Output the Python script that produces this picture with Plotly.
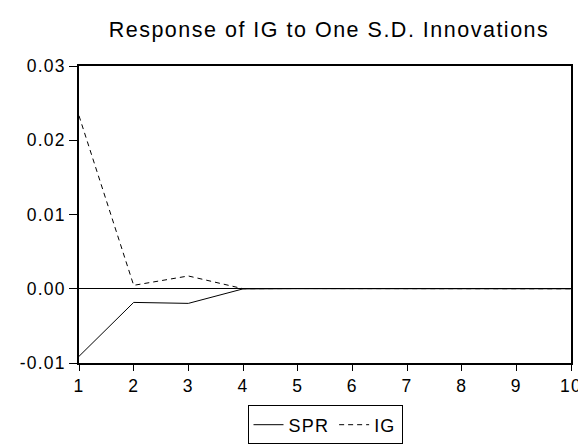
import plotly.graph_objects as go

periods = [1, 2, 3, 4, 5, 6, 7, 8, 9, 10]
spr = [-0.0091, -0.00184, -0.00197, -0.00002, 0.00001, 0.0, 0.0, 0.0, 0.0, 0.0]
ig = [0.0233, 0.00046, 0.00172, 0.00001, 0.00003, 0.00001, 0.0, 0.0, 0.0, 0.0]
xtick_labels = ["1", "2", "3", "4", "5", "6", "7", "8", "9", "10"]
yticks = [-0.01, 0.00, 0.01, 0.02, 0.03]
ytick_labels = ["-0.01", "0.00", "0.01", "0.02", "0.03"]
title_text = "Response of IG to One S.D. Innovations"
series_names = ["SPR", "IG"]

FONT = "Liberation Sans, Arial, Helvetica, sans-serif"


def sp(s, ls=1.2):
    return '<span style="letter-spacing:%spx">%s</span>' % (ls, s)


fig = go.Figure()
fig.add_trace(go.Scatter(x=periods, y=spr, mode="lines", name=sp(series_names[0]),
                         line=dict(color="black", width=1)))
fig.add_trace(go.Scatter(x=periods, y=ig, mode="lines", name=sp(series_names[1]),
                         line=dict(color="black", width=1, dash="5px,4px")))

fig.update_layout(
    width=586, height=448,
    margin=dict(l=70, r=13, t=58, b=72),
    paper_bgcolor="white", plot_bgcolor="white",
    font=dict(family=FONT, size=17.5, color="black"),
    title=dict(text=sp(title_text, 1.5),
               font=dict(family=FONT, size=21.5, color="black"),
               x=321 / 586, xanchor="center",
               y=1 - 21 / 448, yanchor="middle", xref="container", yref="container"),
    showlegend=True,
    legend=dict(orientation="h", x=0.5, xanchor="center",
                y=-(421.5 - 376) / 318, yanchor="top",
                bordercolor="black", borderwidth=1, bgcolor="white",
                font=dict(family=FONT, size=18, color="black"),
                itemwidth=30, tracegroupgap=0),
    xaxis=dict(range=[1, 10], tickmode="array", tickvals=periods,
               ticktext=[sp(t) for t in xtick_labels],
               showline=True, linecolor="black", linewidth=1.8, mirror=True,
               ticks="outside", ticklen=6, tickcolor="black", tickwidth=1,
               showgrid=False, zeroline=False, fixedrange=True),
    yaxis=dict(range=[-0.01, 0.03], tickmode="array", tickvals=yticks,
               ticktext=[sp(t) for t in ytick_labels],
               showline=True, linecolor="black", linewidth=1.8, mirror=True,
               ticks="outside", ticklen=8, tickcolor="black", tickwidth=1,
               showgrid=False, zeroline=True, zerolinecolor="black",
               zerolinewidth=1, fixedrange=True),
)

fig.write_html("out.html")
